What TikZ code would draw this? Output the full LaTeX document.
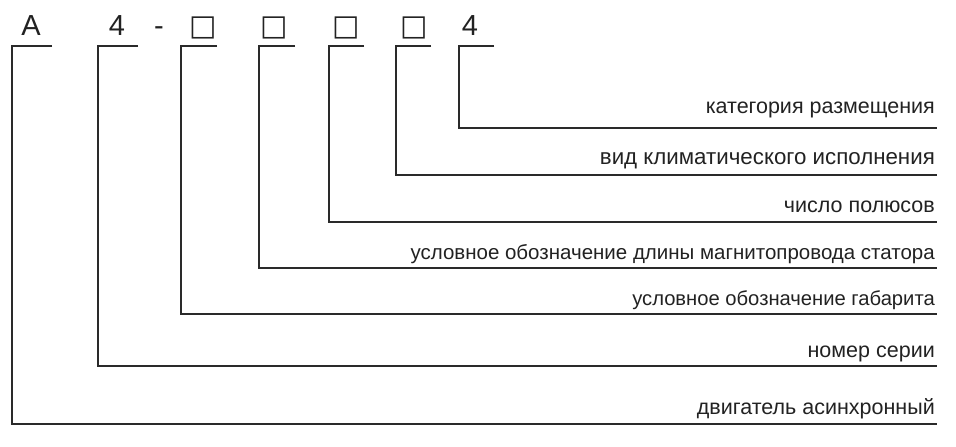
\documentclass[tikz,border=0pt]{standalone}
\usepackage{fontspec}
\setmainfont{Liberation Sans}
\newfontfamily\symfont{DejaVu Sans}
\definecolor{linecol}{HTML}{2A2A2A}
\definecolor{textcol}{HTML}{222222}
\begin{document}
\begin{tikzpicture}[x=1pt,y=-1pt,
  conn/.style={line width=2.8pt, draw=linecol, line join=miter},
  lbl/.style={anchor=base east, inner sep=0pt, font=\fontsize{21.5}{24}\selectfont, text=textcol},
  topchar/.style={anchor=base, inner sep=0pt, font=\fontsize{29}{32}\selectfont, text=textcol},
  sq/.style={anchor=base, inner sep=0pt, font=\symfont\fontsize{29}{32}\selectfont, text=textcol}]
\useasboundingbox[fill=white] (0,0) rectangle (956,447);
% top designation
\node[topchar] (cA) at (31,35) {А};
\node[topchar] (c4) at (117,35) {4};
\node[topchar] (dash) at (159,35) {-};
\node[sq] (s1) at (203,35) {□};
\node[sq] (s2) at (274,35) {□};
\node[sq] (s3) at (346,35) {□};
\node[sq] (s4) at (414,35) {□};
\node[topchar] (c4b) at (470,35) {4};
% labels
\node[lbl] (L7) at (935,113) {категория размещения};
\node[lbl, font=\fontsize{22.3}{25}\selectfont] (L6) at (935,164) {вид климатического исполнения};
\node[lbl] (L5) at (935,212) {число полюсов};
\node[lbl, font=\fontsize{20.5}{24}\selectfont] (L4) at (935,259) {условное обозначение длины магнитопровода статора};
\node[lbl, font=\fontsize{20.2}{24}\selectfont] (L3) at (935,305) {условное обозначение габарита};
\node[lbl] (L2) at (935,357) {номер серии};
\node[lbl] (L1) at (935,414) {двигатель асинхронный};
% bracket coordinates
\coordinate (t1) at (52,46);  \coordinate (k1) at (12,46);  \coordinate (r1) at (937,424);
\coordinate (t2) at (138,46); \coordinate (k2) at (98,46);  \coordinate (r2) at (937,366);
\coordinate (t3) at (217,46); \coordinate (k3) at (181,46); \coordinate (r3) at (937,314);
\coordinate (t4) at (295,46); \coordinate (k4) at (259,46); \coordinate (r4) at (937,268);
\coordinate (t5) at (364,46); \coordinate (k5) at (329,46); \coordinate (r5) at (937,222);
\coordinate (t6) at (431,46); \coordinate (k6) at (396,46); \coordinate (r6) at (937,175);
\coordinate (t7) at (494,46); \coordinate (k7) at (459,46); \coordinate (r7) at (937,128);
\foreach \i in {1,...,7}{
  \draw[conn] (t\i) -- (k\i) |- (r\i);
}
\end{tikzpicture}
\end{document}
